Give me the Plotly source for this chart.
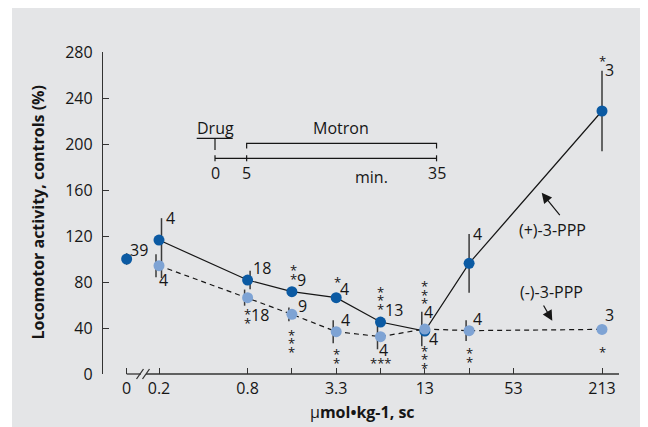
import numpy as np
import plotly.graph_objects as go

# ---------------- data ----------------
doses = [0, 0.2, 0.8, 1.6, 3.3, 6.6, 13, 26, 213]          # umol/kg, (+)-3-PPP
plus_vals = [100, 116.5, 81.7, 71.6, 66.4, 45.2, 37.4, 96.2, 228.7]
plus_err_up = [5, 19, 8, 3, 3, 4, 4, 25.5, 35]
plus_err_down = [5, 33, 8, 3, 3, 4, 4, 25.5, 35]
plus_n = ["39", "4", "18", "9", "4", "13", "4", "4", "3"]
plus_sig = ["", "", "", "**", "*", "***", "***", "", "*"]

minus_doses = [0.2, 0.8, 1.6, 3.3, 6.6, 13, 26, 213]        # (-)-3-PPP
minus_vals = [94.2, 66.4, 51.9, 36.8, 32.5, 39.1, 37.7, 38.8]
minus_err = [10, 7, 6, 10, 11, 15, 9, 3]
minus_n = ["4", "18", "9", "4", "4", "4", "4", "3"]
minus_sig = ["", "**", "***", "**", "***", "***", "**", "*"]

tick_doses = [0, 0.2, 0.8, 1.6, 3.3, 6.6, 13, 26, 53, 213]
tick_labels = ["0", "0.2", "0.8", "", "3.3", "", "13", "", "53", "213"]
y_ticks = [0, 40, 80, 120, 160, 200, 240, 280]

inset_times = [0, 5, 35]
inset_labels = ["0", "5", "35"]

# ---------------- geometry / style ----------------
PAGE_OFF = 8                       # default body margin of the html page
SW, SH = 648, 427                  # screen size
PL, PR, PT, PB = 103, 619, 52, 374  # plot area in screen px
W, H = SW - PAGE_OFF, SH - PAGE_OFF
L, R, T, B = PL - PAGE_OFF, SW - PR, PT - PAGE_OFF, SH - PB
PW, PH = PR - PL, PB - PT
X_UNIT = 44.3           # px per dose doubling
X0_PX = 159             # screen px of 0.2 dose
ZERO_POS = -0.73        # position of the 0 dose (before the axis break)
XR = [(PL - X0_PX) / X_UNIT, (PR - X0_PX) / X_UNIT]
YR = [0, 280]

DARK = "#0b5aa3"
LIGHT = "#7ea3d4"
INK = "#161616"
FONT = "Open Sans"
FS = 16


def pos(d):
    return ZERO_POS if d == 0 else float(np.rint(np.log2(d / 0.2)))


def px_x(px):
    return (px - PL) / PW


def px_y(py):
    return (PB - py) / PH


xp = np.array([pos(d) for d in doses])
xm = np.array([pos(d) for d in minus_doses])

fig = go.Figure()

# error bars (slightly offset horizontally like the original)
plus_off = np.array([0, 2.5, 2.5, 0, 0, 0, 0, 0, 0]) / X_UNIT
fig.add_trace(go.Scatter(
    x=xp + plus_off, y=plus_vals, mode="markers",
    marker=dict(size=1, opacity=0),
    error_y=dict(type="data", symmetric=False, array=plus_err_up,
                 arrayminus=plus_err_down, color="#3a3a3a", thickness=1.5, width=0),
    hoverinfo="skip", showlegend=False))
fig.add_trace(go.Scatter(
    x=xm - 3 / X_UNIT, y=minus_vals, mode="markers",
    marker=dict(size=1, opacity=0),
    error_y=dict(type="data", array=minus_err, color="#3a3a3a", thickness=1.5, width=0),
    hoverinfo="skip", showlegend=False))

# lines
fig.add_trace(go.Scatter(x=xp[1:], y=plus_vals[1:], mode="lines",
                         line=dict(color=INK, width=1.2), showlegend=False))
fig.add_trace(go.Scatter(x=xm, y=minus_vals, mode="lines",
                         line=dict(color=INK, width=1.2, dash="5px,4px"), showlegend=False))
# markers
fig.add_trace(go.Scatter(x=xp, y=plus_vals, mode="markers",
                         marker=dict(color=DARK, size=11), showlegend=False))
fig.add_trace(go.Scatter(x=xm, y=minus_vals, mode="markers",
                         marker=dict(color=LIGHT, size=11), showlegend=False))

ann = []
NUMFONT = dict(family=FONT, size=FS, color=INK)
STARFONT = dict(family=FONT, size=13, color=INK)

# n-labels offsets (dx, dy) in px, dy positive = down
plus_n_off = [(12.5, -9), (11, -22), (14, -12), (10, -12), (8, -9), (13, -12),
              (9, 8), (8, -29), (7, -41)]
plus_star_off = [None, None, None, (1.5, -25), (1, -19), (0, -34), (0, -48), None, (0, -54)]
minus_n_off = [(4, 14), (12, 17), (11, -8), (9, -12), (3, 13), (3.5, -17), (8, -12), (7, -14)]
minus_star_off = [None, (0, 13), (0, 17), (0, 19), "row", (0, 18), (0, 19), (0, 19)]
STEP = 8.5
STAR_LIFT = 3.5


def add_labels(xs, vals, ns, sigs, noff, soff, row_dy=23):
    for i in range(len(xs)):
        dx, dy = noff[i]
        ann.append(dict(x=xs[i], y=vals[i], xref="x", yref="y", text=ns[i],
                        showarrow=False, xshift=dx, yshift=-dy, font=NUMFONT,
                        xanchor="center", yanchor="middle"))
        if sigs[i]:
            if soff[i] == "row":
                ann.append(dict(x=xs[i], y=vals[i], xref="x", yref="y", text=sigs[i],
                                showarrow=False, xshift=0, yshift=-(row_dy + STAR_LIFT),
                                font=STARFONT, xanchor="center", yanchor="middle"))
            else:
                sdx, sdy = soff[i]
                for k in range(len(sigs[i])):
                    ann.append(dict(x=xs[i], y=vals[i], xref="x", yref="y", text="*",
                                    showarrow=False, xshift=sdx,
                                    yshift=-(sdy + k * STEP + STAR_LIFT),
                                    font=STARFONT, xanchor="center", yanchor="middle"))


add_labels(xp, plus_vals, plus_n, plus_sig, plus_n_off, plus_star_off)
add_labels(xm, minus_vals, minus_n, minus_sig, minus_n_off, minus_star_off)

# axis titles
ann.append(dict(xref="paper", yref="paper", x=px_x(37), y=px_y(212.5), textangle=-90,
                text="<b>Locomotor activity, controls (%)</b>", showarrow=False,
                font=dict(family=FONT, size=16, color=INK), xanchor="center", yanchor="middle"))
ann.append(dict(xref="paper", yref="paper", x=px_x(362), y=px_y(412),
                text="μ<b>mol•kg-1, sc</b>", showarrow=False,
                font=dict(family=FONT, size=16, color=INK), xanchor="center", yanchor="middle"))

# series labels with arrows
ann.append(dict(xref="paper", yref="paper", x=px_x(552.3), y=px_y(230), text="(+)-3-PPP",
                showarrow=False, font=NUMFONT, xanchor="center", yanchor="middle"))
ann.append(dict(xref="paper", yref="paper", x=px_x(551.7), y=px_y(291.7), text="(-)-3-PPP",
                showarrow=False, font=NUMFONT, xanchor="center", yanchor="middle"))
ann.append(dict(xref="paper", yref="paper", x=px_x(541.7), y=px_y(192.8), text="",
                showarrow=True, ax=19.3, ay=23.9, arrowhead=2, arrowsize=1.7,
                arrowwidth=1.2, arrowcolor=INK, standoff=0))
ann.append(dict(xref="paper", yref="paper", x=px_x(552.3), y=px_y(320.7), text="",
                showarrow=True, ax=-9.6, ay=-16.7, arrowhead=2, arrowsize=1.7,
                arrowwidth=1.2, arrowcolor=INK, standoff=0))

# inset timeline
T0_PX, T_SCALE = 215, 6.33
LINE_Y = 158.3


def tx(t):
    return px_x(T0_PX + T_SCALE * t)


shapes = []
# background panel
shapes.append(dict(type="rect", xref="paper", yref="paper", x0=px_x(12), x1=px_x(SW + 2),
                   y0=px_y(SH + 2), y1=px_y(6), fillcolor="#e4e5e7", line=dict(width=0),
                   layer="below"))
LN = dict(color=INK, width=1.2)
shapes.append(dict(type="line", xref="paper", yref="paper", x0=tx(inset_times[0]),
                   x1=tx(inset_times[-1]), y0=px_y(LINE_Y), y1=px_y(LINE_Y), line=LN))
for t, lab in zip(inset_times, inset_labels):
    shapes.append(dict(type="line", xref="paper", yref="paper", x0=tx(t), x1=tx(t),
                       y0=px_y(LINE_Y - 3), y1=px_y(LINE_Y + 3), line=LN))
    ann.append(dict(xref="paper", yref="paper", x=tx(t), y=px_y(172.7), text=lab,
                    showarrow=False, font=NUMFONT, xanchor="center", yanchor="middle"))
ann.append(dict(xref="paper", yref="paper", x=px_x(371.7), y=px_y(176.7), text="min.",
                showarrow=False, font=NUMFONT, xanchor="center", yanchor="middle"))
# Drug marker
shapes.append(dict(type="line", xref="paper", yref="paper", x0=px_x(196.7), x1=px_x(232.7),
                   y0=px_y(138.3), y1=px_y(138.3), line=LN))
shapes.append(dict(type="line", xref="paper", yref="paper", x0=tx(inset_times[0]),
                   x1=tx(inset_times[0]), y0=px_y(138.3), y1=px_y(150), line=LN))
ann.append(dict(xref="paper", yref="paper", x=tx(inset_times[0]), y=px_y(128.5), text="Drug",
                showarrow=False, font=NUMFONT, xanchor="center", yanchor="middle"))
# Motron bracket
shapes.append(dict(type="path", xref="paper", yref="paper",
                   path=(f"M {tx(inset_times[1])},{px_y(148.5)} L {tx(inset_times[1])},{px_y(143.3)} "
                         f"L {tx(inset_times[2])},{px_y(143.3)} L {tx(inset_times[2])},{px_y(148.5)}"),
                   line=LN))
ann.append(dict(xref="paper", yref="paper", x=px_x(341), y=px_y(128.5), text="Motron",
                showarrow=False, font=NUMFONT, xanchor="center", yanchor="middle"))

# x axis line with break
AX = dict(color="#333333", width=1.3)
zero_px = X0_PX + ZERO_POS * X_UNIT
shapes.append(dict(type="line", xref="paper", yref="paper", x0=px_x(zero_px), x1=px_x(141),
                   y0=0, y1=0, line=AX))
shapes.append(dict(type="line", xref="paper", yref="paper", x0=px_x(146), x1=1,
                   y0=0, y1=0, line=AX))
for bx in (140, 146):
    shapes.append(dict(type="line", xref="paper", yref="paper", x0=px_x(bx - 3.5),
                       x1=px_x(bx + 3.5), y0=px_y(PB + 5), y1=px_y(PB - 5), line=AX))

fig.update_layout(
    width=W, height=H, margin=dict(l=L, r=R, t=T, b=B),
    paper_bgcolor="white", plot_bgcolor="rgba(0,0,0,0)",
    showlegend=False, annotations=ann, shapes=shapes,
    xaxis=dict(range=XR, showline=False, showgrid=False, zeroline=False,
               tickmode="array", tickvals=[pos(d) for d in tick_doses], ticktext=tick_labels,
               ticks="inside", ticklen=6, tickwidth=1.3, tickcolor="#333333",
               tickfont=dict(family=FONT, size=FS, color=INK), ticklabelstandoff=3),
    yaxis=dict(range=YR, showline=True, linecolor="#333333", linewidth=1.3,
               showgrid=False, zeroline=False, tickmode="array", tickvals=y_ticks,
               ticks="inside", ticklen=6, tickwidth=1.3, tickcolor="#333333",
               tickfont=dict(family=FONT, size=FS, color=INK), ticklabelstandoff=6),
)

fig.write_html("out.html")
